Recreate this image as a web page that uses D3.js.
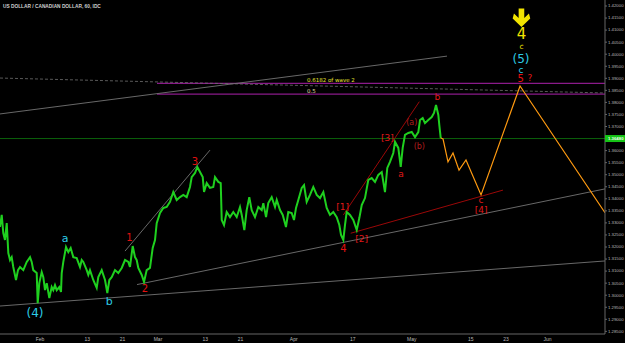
<!DOCTYPE html>
<html>
<head>
<meta charset="utf-8">
<script src="https://cdn.jsdelivr.net/npm/d3@7"></script>
<style>
html, body { margin: 0; background: #000; overflow: hidden; }
</style>
</head>
<body>
<div id="chart"></div>
<script>
// hourly USDCAD, x = trading days from 1 Feb 2017, y = price
const price = [
  [-6.78,1.3281],[-6.49,1.3331],[-6.22,1.3256],[-5.93,1.3227],[-5.64,1.3297],[-5.37,1.3173],
  [-5.08,1.3144],[-4.80,1.3156],[-4.53,1.3115],[-4.07,1.3061],[-3.73,1.3102],[-3.39,1.3115],
  [-2.83,1.3102],[-2.25,1.3136],[-1.69,1.3156],[-1.41,1.3136],[-1.14,1.3102],[-0.56,1.3090],
  [-0.39,1.2965],[-0.12,1.3048],[0.29,1.3094],[0.56,1.3073],[0.85,1.3019],[1.14,1.3048],
  [1.58,1.2986],[1.98,1.3032],[2.25,1.3019],[2.54,1.3040],[2.83,1.3019],[3.27,1.3032],
  [3.56,1.3011],[3.68,1.3090],[3.95,1.3136],[4.41,1.3198],[4.80,1.3177],[5.20,1.3194],
  [5.64,1.3156],[6.22,1.3152],[6.78,1.3115],[7.07,1.3144],[7.34,1.3136],[7.92,1.3102],
  [8.19,1.3082],[8.47,1.3102],[9.03,1.3061],[9.61,1.3028],[9.88,1.3073],[10.46,1.3102],
  [11.02,1.3061],[11.41,1.3007],[11.75,1.3061],[12.15,1.3073],[12.71,1.3102],[13.27,1.3090],
  [13.85,1.3111],[14.41,1.3144],[14.97,1.3136],[15.25,1.3115],[15.71,1.3202],[16.10,1.3156],
  [16.39,1.3144],[16.66,1.3111],[17.24,1.3082],[17.63,1.3053],[18.08,1.3102],[18.64,1.3111],
  [19.10,1.3194],[19.49,1.3227],[19.78,1.3297],[20.34,1.3339],[20.90,1.3360],[21.47,1.3364],
  [22.03,1.3385],[22.59,1.3426],[23.17,1.3393],[23.73,1.3405],[24.29,1.3414],[24.86,1.3405],
  [25.42,1.3447],[25.71,1.3488],[26.27,1.3505],[26.66,1.3530],[27.12,1.3509],[27.58,1.3488],
  [27.80,1.3426],[28.25,1.3463],[28.81,1.3443],[29.37,1.3447],[29.66,1.3488],[30.22,1.3468],
  [30.63,1.3463],[30.80,1.3310],[31.19,1.3289],[31.64,1.3343],[32.20,1.3322],[32.76,1.3343],
  [33.34,1.3322],[33.90,1.3364],[34.19,1.3331],[34.63,1.3268],[35.03,1.3351],[35.47,1.3405],
  [35.88,1.3351],[36.44,1.3322],[37.00,1.3364],[37.58,1.3351],[37.85,1.3380],[38.31,1.3322],
  [38.69,1.3380],[39.27,1.3405],[39.83,1.3364],[40.12,1.3393],[40.68,1.3351],[41.14,1.3331],
  [41.69,1.3281],[42.08,1.3343],[42.66,1.3339],[43.05,1.3310],[43.39,1.3360],[43.78,1.3393],
  [44.36,1.3443],[44.75,1.3455],[45.20,1.3385],[45.76,1.3414],[46.32,1.3447],[46.90,1.3414],
  [47.46,1.3401],[48.02,1.3426],[48.59,1.3360],[49.15,1.3331],[49.71,1.3343],[50.29,1.3322],
  [50.73,1.3289],[51.02,1.3248],[51.41,1.3227],[51.69,1.3289],[51.98,1.3343],[52.54,1.3331],
  [53.10,1.3310],[53.68,1.3268],[54.12,1.3318],[54.53,1.3372],[55.08,1.3401],[55.64,1.3476],
  [56.22,1.3484],[56.78,1.3468],[57.34,1.3497],[57.92,1.3509],[58.47,1.3426],[58.86,1.3526],
  [59.32,1.3551],[59.88,1.3588],[60.17,1.3634],[60.73,1.3609],[61.14,1.3530],[61.47,1.3609],
  [61.86,1.3663],[62.42,1.3671],[63.00,1.3675],[63.56,1.3654],[64.12,1.3675],[64.41,1.3725],
  [64.86,1.3733],[65.25,1.3712],[65.81,1.3725],[66.39,1.3737],[66.78,1.3754],[67.12,1.3787],
  [67.51,1.3746],[67.68,1.3704],[67.92,1.3650]
];

// projected path (orange)
const projection = [
  [67.92,1.3650],[68.31,1.3646],[69.15,1.3551],[70.00,1.3588],[71.02,1.3517],
  [72.20,1.3559],[74.75,1.3414],[81.36,1.3866],[95.76,1.3340]
];

const lastPrice = 1.3648;

// trend lines [day, price] -> [day, price]
const greyLines = [
  [[-6.78,1.2953],[95.76,1.3140]],
  [[16.44,1.3042],[95.76,1.3439]],
  [[14.41,1.3181],[28.81,1.3600]],
  [[-6.78,1.3750],[68.98,1.3990]]
];
const dashedLine = [[-6.78,1.3899],[95.76,1.3837]];
const redLines = [
  [[51.41,1.3331],[64.29,1.3801]],
  [[52.66,1.3255],[78.47,1.3434]]
];
const fibStart = 19.83;
const fibLevels = [1.3877, 1.3832];
const fibNames = ["0.6182 of wave 2", "0.5"];
const fibLabelDay = 45.25;

const tickDates = ["2017-02-01","2017-02-13","2017-02-21","2017-03-01","2017-03-13","2017-03-21",
  "2017-04-03","2017-04-17","2017-05-01","2017-05-15","2017-05-23","2017-06-01"];
const tickNames = ["Feb","13","21","Mar","13","21","Apr","17","May","15","23","Jun"];
const priceTicks = [1.285,1.29,1.295,1.30,1.305,1.31,1.315,1.32,1.325,1.33,1.335,1.34,1.345,1.35,
  1.355,1.36,1.365,1.37,1.375,1.38,1.385,1.39,1.395,1.40,1.405,1.41,1.415,1.42];

// wave labels: text, day, price, kind
const labels = [
  ["(4)", -0.85, 1.2923, "cyanBig"],
  ["a", 4.24, 1.3234, "cyan"],
  ["b", 11.75, 1.2971, "cyan"],
  ["(5)", 81.53, 1.3977, "cyanBig"],
  ["c", 81.53, 1.3932, "cyanSmall"],
  ["4", 81.60, 1.4083, "yellowBig"],
  ["c", 81.60, 1.4029, "yellow"],
  ["1", 15.14, 1.3236, "red"],
  ["2", 17.80, 1.3026, "red"],
  ["3", 26.27, 1.3552, "red"],
  ["4", 51.41, 1.3190, "red"],
  ["[1]", 51.31, 1.3365, "redSmall"],
  ["[2]", 54.53, 1.3231, "redSmall"],
  ["[3]", 58.86, 1.3649, "redSmall"],
  ["a", 61.19, 1.3501, "redSmall"],
  ["(a)", 63.00, 1.3715, "redDark"],
  ["(b)", 64.29, 1.3614, "redDark"],
  ["b", 67.34, 1.3822, "redSmall"],
  ["c", 74.75, 1.3393, "redSmall"],
  ["[4]", 74.75, 1.3351, "redSmall"],
  ["5", 81.47, 1.3896, "red"],
  ["?", 83.05, 1.3899, "redSmall"]
];
const arrowAt = [81.60, 1.4148];

const styles = {
  cyanBig: { fill: "#2ccbe6", size: 12 },
  cyan: { fill: "#2ccbe6", size: 11 },
  cyanSmall: { fill: "#2ccbe6", size: 9 },
  yellowBig: { fill: "#f2e400", size: 15 },
  yellow: { fill: "#f2e400", size: 7.5 },
  red: { fill: "#e41010", size: 10 },
  redSmall: { fill: "#e01818", size: 9 },
  redDark: { fill: "#b01c1c", size: 8 }
};

const width = 625, height = 343;
const plotW = 605, plotH = 334;

// trading-day index counting Mon-Fri from 1 Feb 2017
function tradingDay(s) {
  const start = new Date("2017-02-01T12:00:00Z");
  const end = new Date(s + "T12:00:00Z");
  let n = 0;
  for (let d = new Date(start); d < end; d.setUTCDate(d.getUTCDate() + 1)) {
    const wd = d.getUTCDay();
    if (wd !== 0 && wd !== 6) n++;
  }
  return n;
}

const x = d3.scaleLinear().domain([-6.78, 95.76]).range([0, plotW]);
const y = d3.scaleLinear().domain([1.285, 1.42]).range([330.85, 5.5]);

const svg = d3.select("#chart").append("svg")
  .attr("width", width)
  .attr("height", height)
  .style("background", "#000")
  .style("display", "block");

svg.append("defs").append("clipPath").attr("id", "plot")
  .append("rect").attr("width", plotW).attr("height", plotH);

const g = svg.append("g").attr("clip-path", "url(#plot)");
const line = d3.line().x(d => x(d[0])).y(d => y(d[1]));

// current price line
g.append("line")
  .attr("x1", 0).attr("x2", plotW)
  .attr("y1", y(lastPrice)).attr("y2", y(lastPrice))
  .attr("stroke", "#0b600b").attr("stroke-width", 1);

// fib levels
fibLevels.forEach((lv, i) => {
  g.append("line")
    .attr("x1", x(fibStart)).attr("x2", plotW)
    .attr("y1", y(lv)).attr("y2", y(lv))
    .attr("stroke", "#8a1a8a").attr("stroke-width", 1.3);
  g.append("text")
    .attr("x", x(fibLabelDay)).attr("y", y(lv) - 1.5)
    .attr("fill", i === 0 ? "#e6e030" : "#e0dca0")
    .style("font", "5.5px 'DejaVu Sans', sans-serif")
    .text(fibNames[i]);
});

g.append("path").datum(dashedLine)
  .attr("d", line).attr("fill", "none")
  .attr("stroke", "#707070").attr("stroke-width", 0.8)
  .attr("stroke-dasharray", "3,2");

g.selectAll(".grey").data(greyLines).enter().append("path")
  .attr("d", line).attr("fill", "none")
  .attr("stroke", "#747474").attr("stroke-width", 0.9);

g.selectAll(".red").data(redLines).enter().append("path")
  .attr("d", line).attr("fill", "none")
  .attr("stroke", "#9a0808").attr("stroke-width", 1);

g.append("path").datum(price)
  .attr("d", line).attr("fill", "none")
  .attr("stroke", "#1fd01f").attr("stroke-width", 2)
  .attr("stroke-linejoin", "miter");

g.append("path").datum(projection)
  .attr("d", line).attr("fill", "none")
  .attr("stroke", "#ff9a10").attr("stroke-width", 1.2);

// labels
g.selectAll(".lbl").data(labels).enter().append("text")
  .attr("x", d => x(d[1])).attr("y", d => y(d[2]))
  .attr("text-anchor", "middle")
  .attr("dominant-baseline", "central")
  .attr("fill", d => styles[d[3]].fill)
  .style("font-family", "'DejaVu Sans', sans-serif")
  .style("font-size", d => styles[d[3]].size + "px")
  .text(d => d[0]);

// yellow down arrow
const ax = x(arrowAt[0]), ay = y(arrowAt[1]);
g.append("path")
  .attr("transform", `translate(${ax},${ay})`)
  .attr("d", "M-2.8,-9.5 L2.8,-9.5 L2.8,0 L7.5,-4.6 L8.8,0.4 L0,9 L-8.8,0.4 L-7.5,-4.6 L-2.8,0 Z")
  .attr("fill", "#f2e400");

// axes
const axisX = svg.append("g").attr("transform", `translate(0,${plotH})`);
axisX.append("line").attr("x1", 0).attr("x2", plotW).attr("stroke", "#666");
axisX.selectAll("text").data(tickDates).enter().append("text")
  .attr("x", (d) => x(tradingDay(d)))
  .attr("y", 4.5)
  .attr("text-anchor", "middle")
  .attr("dominant-baseline", "central")
  .attr("fill", "#b8b8b8")
  .style("font", "5px 'Liberation Sans', sans-serif")
  .text((d, i) => tickNames[i]);

const axisY = svg.append("g").attr("transform", `translate(${plotW},0)`)
  .call(d3.axisRight(y).tickValues(priceTicks).tickFormat(d3.format(".5f")).tickSize(2).tickPadding(1));
axisY.select(".domain").attr("stroke", "#666").attr("d", `M0,0V${plotH}`);
axisY.selectAll(".tick line").attr("stroke", "#666");
axisY.selectAll(".tick text").attr("fill", "#b8b8b8")
  .style("font", "4.3px 'Liberation Sans', sans-serif");

// last price tag
const tag = svg.append("g").attr("transform", `translate(${plotW},${y(lastPrice)})`);
tag.append("rect").attr("x", 0).attr("y", -3.5).attr("width", 20).attr("height", 7).attr("fill", "#16c416");
tag.append("text").attr("x", 3).attr("y", 0).attr("dominant-baseline", "central")
  .attr("fill", "#f0fff0").style("font", "bold 4.3px 'Liberation Sans', sans-serif")
  .text(d3.format(".5f")(lastPrice));

// title
svg.append("text").attr("x", 3).attr("y", 6).attr("dominant-baseline", "central")
  .attr("fill", "#cfcfcf")
  .style("font", "bold 4.8px 'Liberation Sans', sans-serif")
  .text("US DOLLAR / CANADIAN DOLLAR, 60, IDC");
</script>
</body>
</html>
